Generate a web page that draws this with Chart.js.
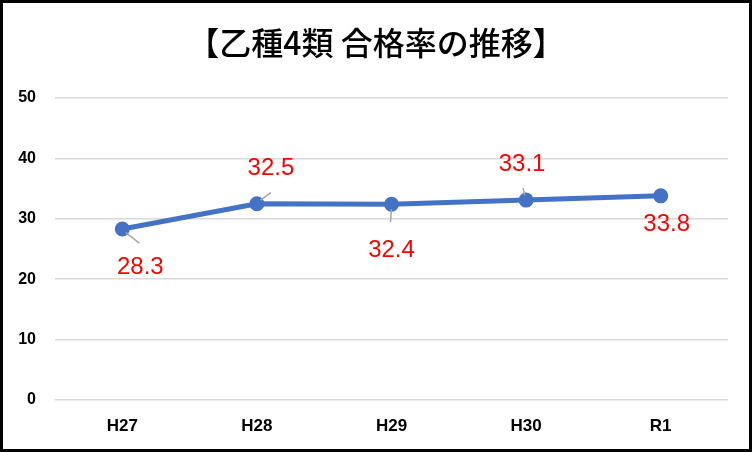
<!DOCTYPE html>
<html><head><meta charset="utf-8">
<script src="https://cdn.jsdelivr.net/npm/chart.js@4/dist/chart.umd.min.js"></script>
<style>html,body{margin:0;padding:0;background:#fff}#wrap{width:752px;height:452px}</style>
</head><body><div id="wrap"><canvas id="c" width="752" height="452"></canvas></div>
<script>
const categories = ['H27', 'H28', 'H29', 'H30', 'R1'];
const passRates = [28.3, 32.5, 32.4, 33.1, 33.8];
const yTicks = [0, 10, 20, 30, 40, 50];
const titleText = '【乙種4類 合格率の推移】';

const labelPlugin = {
  id: 'dataLabels',
  afterDatasetsDraw(chart, args, opts) {
    const ctx = chart.ctx;
    const meta = chart.getDatasetMeta(0);
    ctx.save();
    meta.data.forEach((pt, i) => {
      const lead = opts.leaders[i];
      if (lead) {
        ctx.strokeStyle = '#a6a6a6';
        ctx.lineWidth = 1.5;
        ctx.beginPath();
        ctx.moveTo(pt.x + lead[0], pt.y + lead[1]);
        ctx.lineTo(pt.x + lead[2], pt.y + lead[3]);
        ctx.stroke();
      }
    });
    meta.data.forEach(pt => {
      ctx.fillStyle = '#4472C4';
      ctx.beginPath();
      ctx.arc(pt.x, pt.y, 5, 0, Math.PI * 2);
      ctx.fill();
    });
    ctx.fillStyle = '#ff0000';
    ctx.font = '24px "Liberation Sans", Arial, sans-serif';
    ctx.textAlign = 'center';
    ctx.textBaseline = 'middle';
    meta.data.forEach((pt, i) => {
      const o = opts.offsets[i];
      ctx.fillText(String(passRates[i].toFixed(1)), pt.x + o[0], pt.y + o[1]);
    });
    ctx.restore();
  }
};

const borderPlugin = {
  id: 'frame',
  afterDraw(chart) {
    const ctx = chart.ctx;
    ctx.save();
    ctx.strokeStyle = '#000';
    ctx.lineWidth = 3;
    ctx.strokeRect(1.5, 1.5, chart.width - 3, chart.height - 3);
    ctx.restore();
  }
};

new Chart(document.getElementById('c'), {
  type: 'line',
  data: {
    labels: categories,
    datasets: [{
      data: passRates,
      borderColor: '#4472C4',
      backgroundColor: '#4472C4',
      borderWidth: 5,
      pointRadius: 5,
      pointHoverRadius: 5,
      tension: 0
    }]
  },
  options: {
    responsive: false,
    animation: false,
    devicePixelRatio: 1,
    layout: { padding: { left: 0, right: 0, top: 0, bottom: 0 } },
    plugins: {
      legend: { display: false },
      tooltip: { enabled: false },
      title: {
        display: true,
        text: titleText,
        color: '#000',
        font: { family: '"Noto Sans CJK JP", sans-serif', size: 32, weight: 500 },
        padding: { top: 24, bottom: 35.6 }
      },
      dataLabels: {
        offsets: [[18, 38], [14, -35], [0, 46], [-4, -36], [6, 29]],
        leaders: [[3, 3, 17, 14], [3, -3, 14, -11], [0, 4, -1, 18], [-1, -3, -3, -12], null]
      }
    },
    scales: {
      x: {
        offset: true,
        grid: { display: false, drawTicks: false },
        border: { display: false },
        ticks: {
          color: '#000', padding: 16,
          font: { family: '"Liberation Sans Narrow", "Liberation Sans", Arial, sans-serif', size: 17, weight: 'bold' }
        },
        afterFit(s) { s.height = 52; }
      },
      y: {
        min: 0, max: 50,
        afterBuildTicks(s) { s.ticks = yTicks.map(v => ({ value: v })); },
        grid: { color: '#d9d9d9', lineWidth: 1.5, drawTicks: false },
        border: { display: false },
        ticks: {
          color: '#000', padding: 19,
          font: { family: '"Liberation Sans", Arial, sans-serif', size: 16, weight: 'bold' }
        },
        afterFit(s) { s.width = 55; }
      },
      y2: {
        position: 'right',
        display: true,
        grid: { display: false, drawTicks: false },
        border: { display: false },
        ticks: { display: false },
        afterFit(s) { s.width = 24; }
      }
    }
  },
  plugins: [labelPlugin, borderPlugin]
});
</script>
</body></html>
